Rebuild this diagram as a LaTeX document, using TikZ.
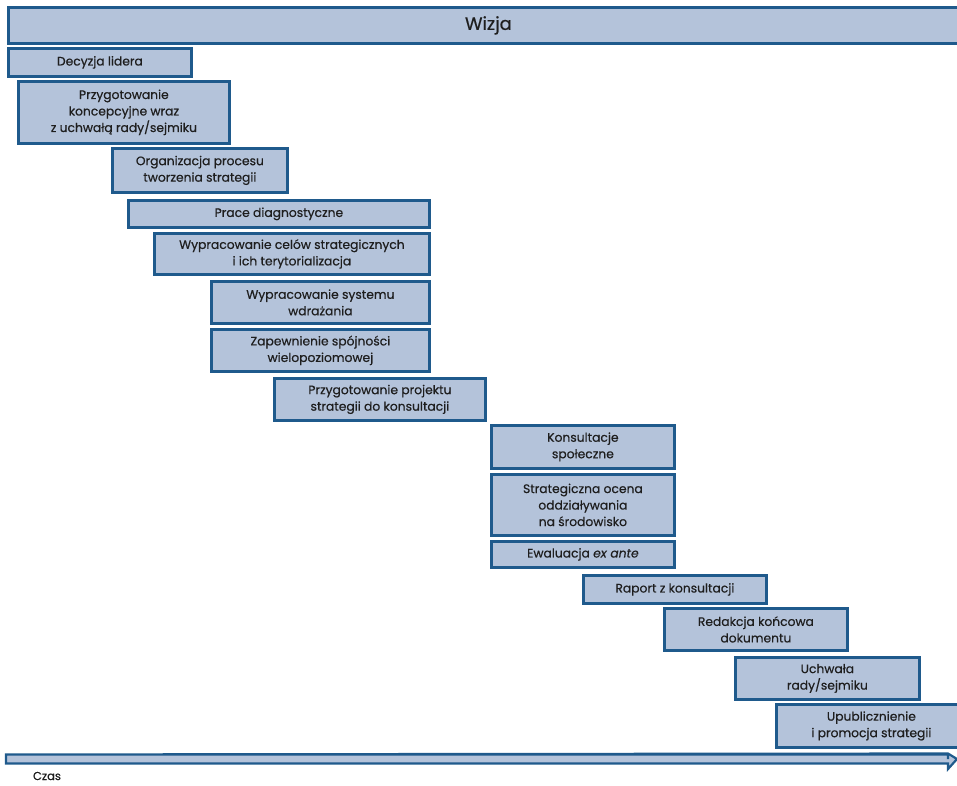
\documentclass[tikz,border=0pt]{standalone}
\usepackage{fontspec}
\setmainfont{Poppins}[FakeBold=0.5]
\definecolor{boxfill}{HTML}{B4C3DA}
\definecolor{boxline}{HTML}{1F5A8C}
\definecolor{txtgray}{HTML}{1E1E1E}
\tikzset{
  phase/.style={draw=boxline, fill=boxfill, line width=2.8pt, align=center,
    text=txtgray, font=\fontsize{12.3}{16.5}\selectfont, inner sep=0pt,
    anchor=north west},
}
\begin{document}
\begin{tikzpicture}[x=1pt,y=-1pt]
                \useasboundingbox (0,0) rectangle (957,785);
                \clip (0,0) rectangle (957,785);
                %% vision
                \node[phase, minimum width=960, minimum height=36,
                      font=\fontsize{18}{20}\selectfont] (wizja) at (7,6) {Wizja};
                %% phases
                \node[phase, minimum width=183, minimum height=28] (decyzja) at (7,47) {Decyzja lidera};
                \node[phase, minimum width=211, minimum height=62] (koncepcja) at (17,80)
                    {Przygotowanie\\koncepcyjne wraz\\z uchwałą rady/sejmiku};
                \node[phase, minimum width=175, minimum height=44] (organizacja) at (111,147)
                    {Organizacja procesu\\tworzenia strategii};
                \node[phase, minimum width=301, minimum height=27] (diagnoza) at (127,199) {Prace diagnostyczne};
                \node[phase, minimum width=275, minimum height=41] (cele) at (153,232)
                    {Wypracowanie celów strategicznych\\i ich terytorializacja};
                \node[phase, minimum width=218, minimum height=42] (wdrazanie) at (210,280)
                    {Wypracowanie systemu\\wdrażania};
                \node[phase, minimum width=218, minimum height=42] (spojnosc) at (210,328)
                    {Zapewnienie spójności\\wielopoziomowej};
                \node[phase, minimum width=211, minimum height=42] (projekt) at (273,377)
                    {Przygotowanie projektu\\strategii do konsultacji};
                \node[phase, minimum width=183, minimum height=43] (konsultacje) at (490,424)
                    {Konsultacje\\społeczne};
                \node[phase, minimum width=183, minimum height=61] (ocena) at (490,473)
                    {Strategiczna ocena\\oddziaływania\\na środowisko};
                \node[phase, minimum width=183, minimum height=26] (ewaluacja) at (490,540)
                    {Ewaluacja \textit{ex ante}};
                \node[phase, minimum width=183, minimum height=28] (raport) at (582,574) {Raport z konsultacji};
                \node[phase, minimum width=183, minimum height=42] (redakcja) at (663,607)
                    {Redakcja końcowa\\dokumentu};
                \node[phase, minimum width=184, minimum height=42] (uchwala) at (734,656)
                    {Uchwała\\rady/sejmiku};
                \node[phase, minimum width=190, minimum height=43] (promocja) at (775,703)
                    {Upublicznienie\\i promocja strategii};
                %% time axis
                \coordinate (t0) at (6,759);
                \coordinate (t1) at (957,759);
                \draw[draw=boxline, fill=boxfill, line width=2.2pt, line join=miter]
                    (t0) ++(0,-4.5) -| ([xshift=-9pt]t1) ++(0,-5.5) -- (t1)
                    -- ++(-9,10) -- ++(0,-5.5) -| ([yshift=4.5pt]t0) -- cycle;
                \node[text=txtgray, font=\fontsize{11.5}{13}\selectfont] (czas) at (47,776) {Czas};
\end{tikzpicture}
\end{document}
